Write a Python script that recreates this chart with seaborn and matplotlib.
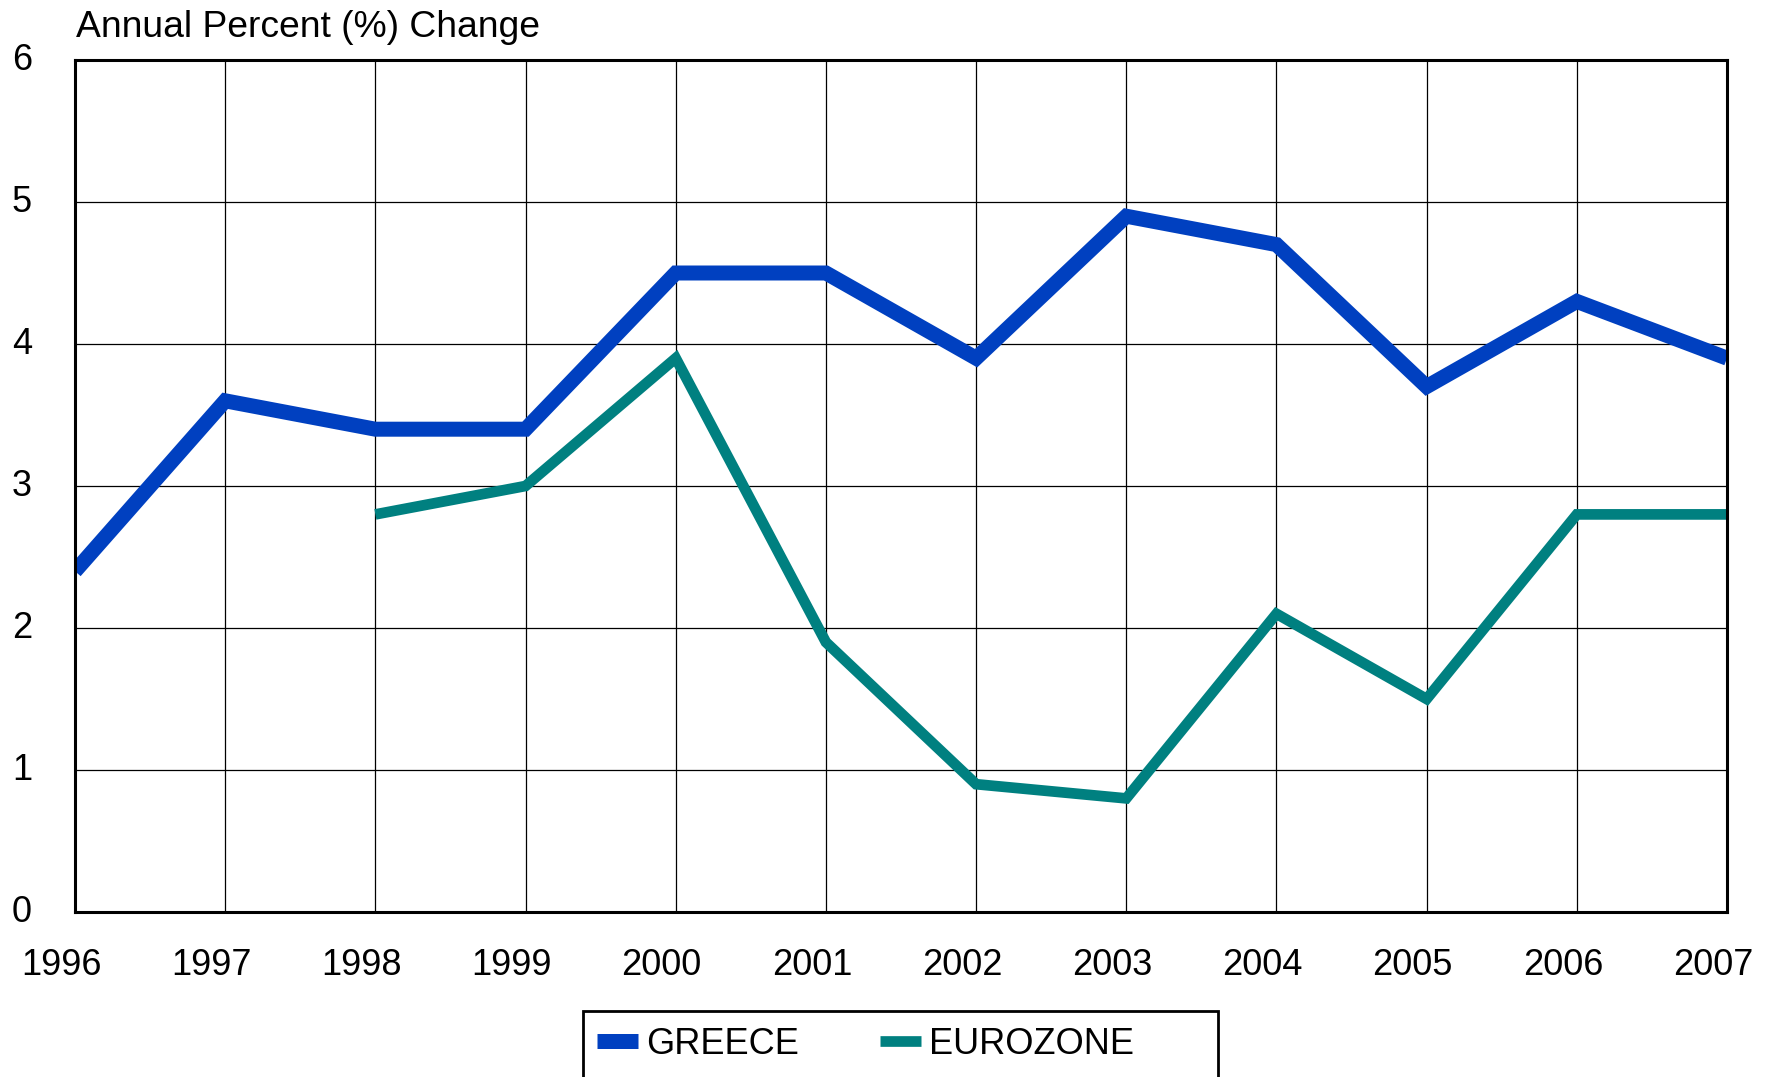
import matplotlib
matplotlib.use("Agg")
import matplotlib.pyplot as plt
import matplotlib.transforms as mtransforms
from matplotlib.patches import Rectangle
import seaborn as sns
import pandas as pd

years = [1996, 1997, 1998, 1999, 2000, 2001, 2002, 2003, 2004, 2005, 2006, 2007]
greece = [2.4, 3.6, 3.4, 3.4, 4.5, 4.5, 3.9, 4.9, 4.7, 3.7, 4.3, 3.9]
euro_years = [1998, 1999, 2000, 2001, 2002, 2003, 2004, 2005, 2006, 2007]
eurozone = [2.8, 3.0, 3.9, 1.9, 0.9, 0.8, 2.1, 1.5, 2.8, 2.8]
y_ticks = [0, 1, 2, 3, 4, 5, 6]

sns.set_style("white")
plt.rcParams['font.family'] = ['Liberation Sans', 'DejaVu Sans']

W, H = 1771, 1077
fig = plt.figure(figsize=(W / 100, H / 100), dpi=100)
ax = fig.add_axes([75 / W, 1 - 912 / H, (1727 - 75) / W, (912 - 60) / H])

df_g = pd.DataFrame({"year": years, "value": greece, "series": "GREECE"})
df_e = pd.DataFrame({"year": euro_years, "value": eurozone, "series": "EUROZONE"})

sns.lineplot(data=df_g, x="year", y="value", ax=ax, color="#0040C0", linewidth=10.8,
             label="GREECE", solid_joinstyle="miter", solid_capstyle="butt")
sns.lineplot(data=df_e, x="year", y="value", ax=ax, color="#008080", linewidth=7.7,
             label="EUROZONE", solid_joinstyle="miter", solid_capstyle="butt")

ax.set_xlim(1996, 2007)
ax.set_ylim(0, 6)
ax.set_xticks(years)
ax.set_xticklabels([str(y) for y in years])
ax.set_yticks(y_ticks)
ax.set_yticklabels([str(v) for v in y_ticks])
ax.set_xlabel("")
ax.set_ylabel("")
ax.grid(True, color="black", linewidth=0.9)
ax.set_axisbelow(True)
for s in ax.spines.values():
    s.set_color("black")
    s.set_linewidth(2.2)
    s.set_visible(True)

ax.tick_params(axis="both", length=0, labelsize=26, colors="black")
ax.tick_params(axis="x", pad=26)
ax.tick_params(axis="y", pad=31)

dx = mtransforms.ScaledTranslation(-14 / 100, 0, fig.dpi_scale_trans)
for lab in ax.get_xticklabels():
    lab.set_transform(lab.get_transform() + dx)
dy = mtransforms.ScaledTranslation(0, 4 / 100, fig.dpi_scale_trans)
for lab in ax.get_yticklabels():
    lab.set_transform(lab.get_transform() + dy)

fig.text(76 / W, 1 - 37 / H, "Annual Percent (%) Change", fontsize=26.8,
         ha="left", va="baseline", color="black")

ax.get_legend().remove()
handles, labels = ax.get_legend_handles_labels()
leg = fig.legend(handles, labels, loc="center left",
                 bbox_to_anchor=(597 / W, 1 - 1044 / H), ncol=2, frameon=False,
                 fontsize=26, borderpad=0, borderaxespad=0,
                 handlelength=1.13, handletextpad=0.22, columnspacing=2.25)
for t in leg.get_texts():
    t.set_color("black")

fig.patches.append(Rectangle((583 / W, -0.05), (1218 - 583) / W, (1 - 1011 / H) + 0.05,
                             transform=fig.transFigure, fill=False,
                             edgecolor="black", linewidth=2.0))

fig.savefig("out.png", dpi=100, facecolor="white")
